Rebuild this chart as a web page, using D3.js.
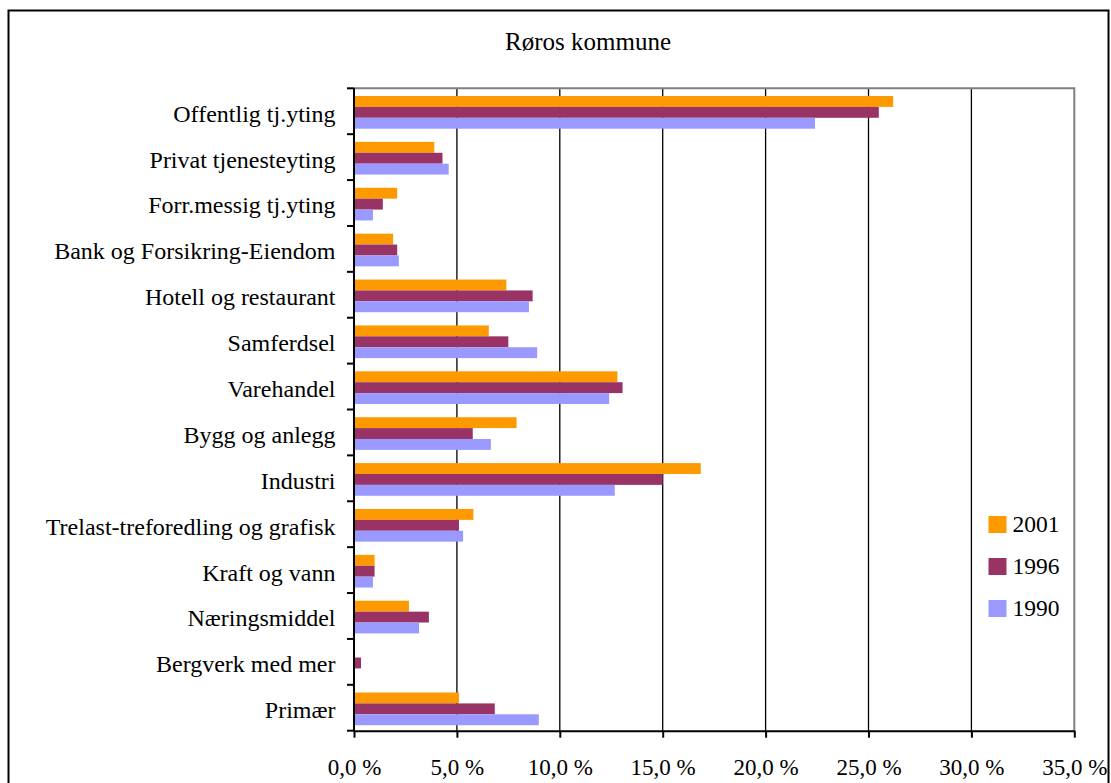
<!DOCTYPE html>
<html>
<head>
<meta charset="utf-8">
<script src="https://cdn.jsdelivr.net/npm/d3@7"></script>
<style>
  html, body { margin: 0; padding: 0; background: #fff; }
  svg { display: block; }
  svg text { font-family: "Liberation Serif", Tinos, "Times New Roman", Times, "DejaVu Serif", serif !important; fill: #000; }
</style>
</head>
<body>
<script>
const title = "Røros kommune";
const categories = [
  "Offentlig tj.yting",
  "Privat tjenesteyting",
  "Forr.messig tj.yting",
  "Bank og Forsikring-Eiendom",
  "Hotell og restaurant",
  "Samferdsel",
  "Varehandel",
  "Bygg og anlegg",
  "Industri",
  "Trelast-treforedling og grafisk",
  "Kraft og vann",
  "Næringsmiddel",
  "Bergverk med mer",
  "Primær"
];
const seriesNames = ["2001", "1996", "1990"];
const values2001 = [26.2, 3.9, 2.1, 1.9, 7.4, 6.55, 12.8, 7.9, 16.85, 5.8, 1.0, 2.67, 0.0, 5.1];
const values1996 = [25.5, 4.3, 1.4, 2.1, 8.68, 7.5, 13.05, 5.77, 15.0, 5.1, 1.0, 3.64, 0.34, 6.84];
const values1990 = [22.4, 4.6, 0.92, 2.18, 8.5, 8.9, 12.4, 6.65, 12.67, 5.3, 0.92, 3.16, 0.0, 8.98];
const seriesColors = ["#FF9900", "#993366", "#9999FF"];
const xTicks = [0, 5, 10, 15, 20, 25, 30, 35];
const xTickLabels = ["0,0 %", "5,0 %", "10,0 %", "15,0 %", "20,0 %", "25,0 %", "30,0 %", "35,0 %"];

const W = 1111, H = 783;
const svg = d3.select("body").append("svg").attr("width", W).attr("height", H);
const FONT = "'Liberation Serif', Tinos, 'Times New Roman', Times, 'DejaVu Serif', serif";

// outer chart border
svg.append("rect")
  .attr("x", 8.5).attr("y", 10.5)
  .attr("width", 1100).attr("height", 790)
  .attr("fill", "#fff").attr("stroke", "#000").attr("stroke-width", 2);

const plot = { left: 354, right: 1074.3, top: 88.3, bottom: 730.7 };

const x = d3.scaleLinear().domain([0, 35]).range([plot.left, plot.right]);
const y = d3.scaleBand().domain(categories).range([plot.top, plot.bottom]).paddingInner(0).paddingOuter(0);
const bw = y.bandwidth();
const ySub = d3.scaleBand().domain(seriesNames).range([bw * 0.168, bw * 0.88]).padding(0);

const seriesValues = [values2001, values1996, values1990];

// gridlines
svg.append("g").selectAll("line")
  .data(xTicks.filter(t => t > 0 && t < 35))
  .join("line")
  .attr("x1", d => x(d)).attr("x2", d => x(d))
  .attr("y1", plot.top).attr("y2", plot.bottom)
  .attr("stroke", "#000").attr("stroke-width", 1.3);

// plot border top & right (gray)
svg.append("path")
  .attr("d", `M${plot.left},${plot.top}H${plot.right}V${plot.bottom}`)
  .attr("fill", "none").attr("stroke", "#808080").attr("stroke-width", 2);

// bars
seriesNames.forEach((s, si) => {
  svg.append("g").selectAll("rect")
    .data(categories.map((c, i) => ({ c, v: seriesValues[si][i] })))
    .join("rect")
    .attr("x", x(0))
    .attr("y", d => y(d.c) + ySub(s))
    .attr("width", d => Math.max(0, x(d.v) - x(0)))
    .attr("height", ySub.bandwidth())
    .attr("fill", seriesColors[si]);
});

// x axis
const xAxis = d3.axisBottom(x)
  .tickValues(xTicks)
  .tickFormat((d, i) => xTickLabels[i])
  .tickSizeInner(7).tickSizeOuter(0).tickPadding(21);
const gx = svg.append("g").attr("transform", `translate(0,${plot.bottom})`).call(xAxis);
gx.attr("font-family", FONT);
gx.select(".domain").attr("stroke", "#000").attr("stroke-width", 2);
gx.selectAll(".tick line").attr("stroke", "#000").attr("stroke-width", 2);
gx.selectAll(".tick text")
  .attr("font-size", "23px")
  .attr("fill", "#000")
  .attr("dy", "0.71em");

// y axis: ticks at band boundaries
const yEdges = categories.map(c => y(c)).concat([plot.bottom]);
svg.append("line")
  .attr("x1", plot.left).attr("x2", plot.left)
  .attr("y1", plot.top).attr("y2", plot.bottom + 1)
  .attr("stroke", "#000").attr("stroke-width", 2);
svg.append("g").selectAll("line")
  .data(yEdges)
  .join("line")
  .attr("x1", plot.left - 7).attr("x2", plot.left)
  .attr("y1", d => d).attr("y2", d => d)
  .attr("stroke", "#000").attr("stroke-width", 2);

// category labels
svg.append("g").attr("font-family", FONT).selectAll("text")
  .data(categories)
  .join("text")
  .attr("x", 335.5)
  .attr("y", d => y(d) + bw / 2 + 10.4)
  .attr("text-anchor", "end")
  .attr("font-size", "24px")
  .text(d => d);

// title
svg.append("text")
  .attr("font-family", FONT)
  .attr("x", 588).attr("y", 49.5)
  .attr("text-anchor", "middle")
  .attr("font-size", "25px")
  .text(title);

// legend
const legend = svg.append("g").attr("font-family", FONT);
seriesNames.forEach((s, i) => {
  const ly = 516 + i * 42;
  legend.append("rect")
    .attr("x", 988.5).attr("y", ly)
    .attr("width", 18).attr("height", 17)
    .attr("fill", seriesColors[i]);
  legend.append("text")
    .attr("x", 1012.5).attr("y", ly + 16)
    .attr("font-size", "23.5px")
    .text(s);
});
</script>
</body>
</html>
